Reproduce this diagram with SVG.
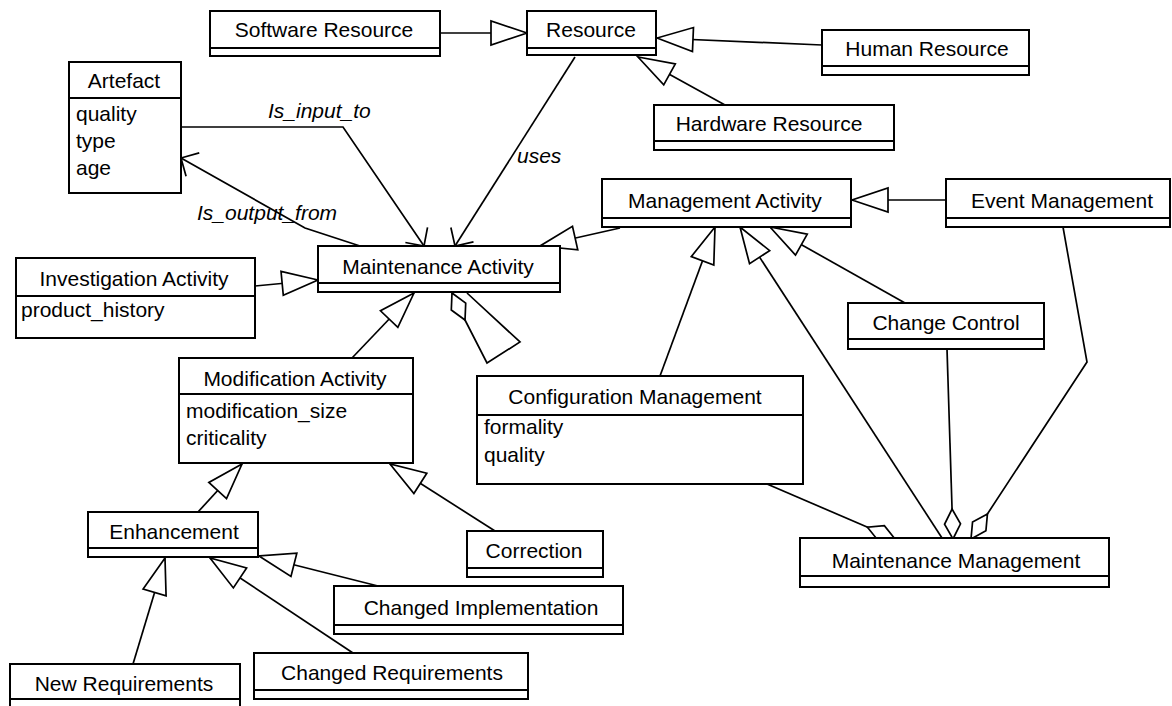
<svg xmlns="http://www.w3.org/2000/svg" width="1172" height="706" viewBox="0 0 1172 706">
<style>
.box{fill:#fff;stroke:#000;stroke-width:2}
.div{stroke:#000;stroke-width:2}
.t{font-family:"Liberation Sans",Arial,Helvetica,sans-serif;font-size:21px;fill:#000}
.c{text-anchor:middle}
.lbl{font-family:"Liberation Sans",Arial,Helvetica,sans-serif;font-size:21px;font-style:italic;fill:#000}
.ln{fill:none;stroke:#000;stroke-width:1.7}
.gen{marker-end:url(#gen)}
.agg{marker-end:url(#agg)}
.nav{marker-end:url(#nav)}
</style>
<defs>
<marker id="gen" markerUnits="userSpaceOnUse" viewBox="-40 -16 44 32" markerWidth="44" markerHeight="32" refX="0" refY="0" orient="auto" overflow="visible">
<polygon points="0,0 -36,-12 -36,12" fill="#fff" stroke="#000" stroke-width="1.7" stroke-linejoin="miter"/>
</marker>
<marker id="agg" markerUnits="userSpaceOnUse" viewBox="-34 -12 38 24" markerWidth="38" markerHeight="24" refX="0" refY="0" orient="auto" overflow="visible">
<polygon points="0,0 -15,-8 -30,0 -15,8" fill="#fff" stroke="#000" stroke-width="1.7"/>
</marker>
<marker id="nav" markerUnits="userSpaceOnUse" viewBox="-18 -18 22 36" markerWidth="22" markerHeight="36" refX="0" refY="0" orient="auto" overflow="visible">
<path d="M-13.4,-13.4 L0,0 L-13.4,13.4" fill="none" stroke="#000" stroke-width="1.7"/>
</marker>
</defs>
<rect width="1172" height="706" fill="#fff"/>
<g id="connectors">
<path class="ln gen" d="M440,33 L527,33"/>
<path class="ln gen" d="M822,45 L657,38"/>
<path class="ln gen" d="M725,105 L638,57"/>
<path class="ln gen" d="M255,286 L318,280"/>
<path class="ln gen" d="M352,358 L414,293"/>
<path class="ln gen" d="M620,228 L540,246"/>
<path class="ln gen" d="M946,200 L852,200"/>
<path class="ln gen" d="M660,376 L715,227"/>
<path class="ln gen" d="M942,538 L740,227"/>
<path class="ln gen" d="M905,303 L770,227"/>
<path class="ln gen" d="M198,512 L242,464"/>
<path class="ln gen" d="M495,531 L390,464"/>
<path class="ln gen" d="M378,586 L259,556"/>
<path class="ln gen" d="M353,653 L210,558"/>
<path class="ln gen" d="M133,664 L165,558"/>
<path class="ln nav" d="M181,127 L343,127 L424,246"/>
<path class="ln nav" d="M360,246 L305,228 L181,158"/>
<path class="ln nav" d="M575,57 L455,246"/>
<path class="ln agg" d="M767,484 L895,539"/>
<path class="ln agg" d="M947,349 L953,539"/>
<path class="ln agg" d="M1063,227 L1087,362 L971,539"/>
<path class="ln agg" d="M467,293 L520,342 L487,363 L465,320 L452,293"/>
<text class="lbl" x="268" y="118">Is_input_to</text>
<text class="lbl" x="197" y="220">Is_output_from</text>
<text class="lbl" x="517" y="163">uses</text>
</g>
<g id="software-resource">
<rect class="box" x="210" y="11" width="230" height="45"/>
<line class="div" x1="210" y1="48" x2="440" y2="48"/>
<text class="t c" x="324" y="37">Software Resource</text>
</g>
<g id="resource">
<rect class="box" x="527" y="11" width="129" height="44"/>
<line class="div" x1="527" y1="48" x2="656" y2="48"/>
<text class="t c" x="591" y="37">Resource</text>
</g>
<g id="human-resource">
<rect class="box" x="822" y="30" width="207" height="45"/>
<line class="div" x1="822" y1="66" x2="1029" y2="66"/>
<text class="t c" x="927" y="55.5">Human Resource</text>
</g>
<g id="hardware-resource">
<rect class="box" x="654" y="105" width="240" height="45"/>
<line class="div" x1="654" y1="141" x2="894" y2="141"/>
<text class="t c" x="769" y="130.5">Hardware Resource</text>
</g>
<g id="artefact">
<rect class="box" x="69" y="62" width="112" height="131"/>
<line class="div" x1="69" y1="98" x2="181" y2="98"/>
<text class="t c" x="124" y="87.5">Artefact</text>
<text class="t" x="76" y="121">quality</text>
<text class="t" x="76" y="148">type</text>
<text class="t" x="76" y="175">age</text>
</g>
<g id="maintenance-activity">
<rect class="box" x="318" y="246" width="242" height="46"/>
<line class="div" x1="318" y1="283" x2="560" y2="283"/>
<text class="t c" x="438" y="273.5">Maintenance Activity</text>
</g>
<g id="investigation-activity">
<rect class="box" x="16" y="258" width="239" height="80"/>
<line class="div" x1="16" y1="296" x2="255" y2="296"/>
<text class="t c" x="134" y="285.5">Investigation Activity</text>
<text class="t" x="21" y="317">product_history</text>
</g>
<g id="modification-activity">
<rect class="box" x="179" y="358" width="234" height="105"/>
<line class="div" x1="179" y1="394" x2="413" y2="394"/>
<text class="t c" x="295" y="385.5">Modification Activity</text>
<text class="t" x="186" y="418">modification_size</text>
<text class="t" x="186" y="445">criticality</text>
</g>
<g id="management-activity">
<rect class="box" x="602" y="179" width="249" height="48"/>
<line class="div" x1="602" y1="218" x2="851" y2="218"/>
<text class="t c" x="725" y="207.5">Management Activity</text>
</g>
<g id="event-management">
<rect class="box" x="946" y="179" width="224" height="48"/>
<line class="div" x1="946" y1="218" x2="1170" y2="218"/>
<text class="t c" x="1062" y="207.5">Event Management</text>
</g>
<g id="change-control">
<rect class="box" x="848" y="303" width="196" height="46"/>
<line class="div" x1="848" y1="339" x2="1044" y2="339"/>
<text class="t c" x="946" y="329.5">Change Control</text>
</g>
<g id="configuration-management">
<rect class="box" x="477" y="376" width="326" height="108"/>
<line class="div" x1="477" y1="415" x2="803" y2="415"/>
<text class="t c" x="635" y="403.5">Configuration Management</text>
<text class="t" x="484" y="434">formality</text>
<text class="t" x="484" y="462">quality</text>
</g>
<g id="maintenance-management">
<rect class="box" x="800" y="538" width="309" height="49"/>
<line class="div" x1="800" y1="576" x2="1109" y2="576"/>
<text class="t c" x="956" y="567.5">Maintenance Management</text>
</g>
<g id="enhancement">
<rect class="box" x="88" y="512" width="170" height="45"/>
<line class="div" x1="88" y1="548" x2="258" y2="548"/>
<text class="t c" x="174" y="538.5">Enhancement</text>
</g>
<g id="correction">
<rect class="box" x="467" y="531" width="136" height="46"/>
<line class="div" x1="467" y1="568" x2="603" y2="568"/>
<text class="t c" x="534" y="557.5">Correction</text>
</g>
<g id="changed-implementation">
<rect class="box" x="334" y="586" width="289" height="48"/>
<line class="div" x1="334" y1="625" x2="623" y2="625"/>
<text class="t c" x="481" y="614.5">Changed Implementation</text>
</g>
<g id="changed-requirements">
<rect class="box" x="254" y="653" width="274" height="46"/>
<line class="div" x1="254" y1="690" x2="528" y2="690"/>
<text class="t c" x="392" y="679.5">Changed Requirements</text>
</g>
<g id="new-requirements">
<rect class="box" x="10" y="664" width="230" height="46"/>
<line class="div" x1="10" y1="699" x2="240" y2="699"/>
<text class="t c" x="124" y="690.5">New Requirements</text>
</g>
</svg>
